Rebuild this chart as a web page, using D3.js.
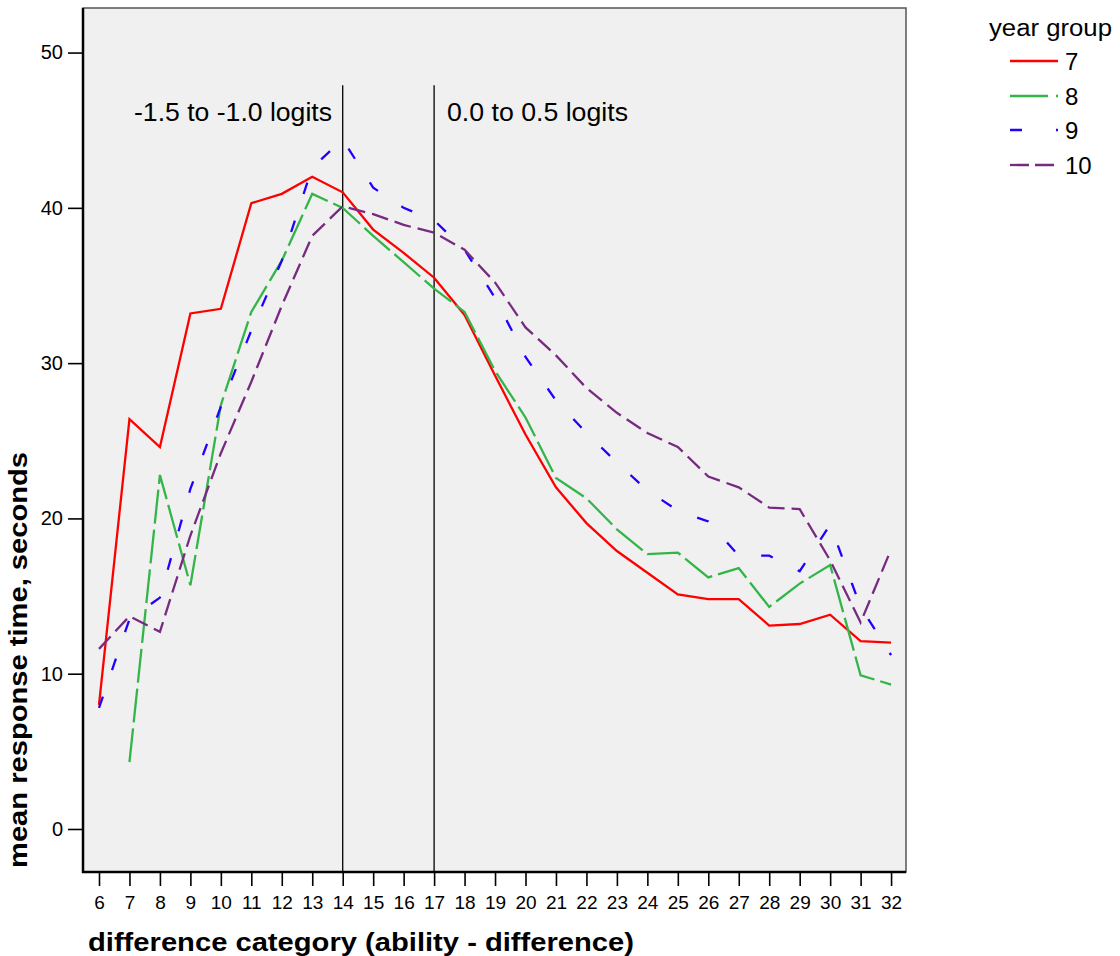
<!DOCTYPE html>
<html><head><meta charset="utf-8">
<script src="https://cdn.jsdelivr.net/npm/d3@7"></script>
<style>body{margin:0;background:#fff}svg{display:block}text{font-family:"Liberation Sans",Arial,sans-serif}</style>
</head><body><svg id="c" width="1120" height="956"></svg>
<script>
const categories = d3.range(6, 33);
const year7  = [8.0,26.4,24.6,33.2,33.5,40.3,40.9,42.0,41.0,38.6,37.1,35.5,33.1,29.2,25.4,22.0,19.7,17.9,16.5,15.1,14.8,14.8,13.1,13.2,13.8,12.1,12.0];
const year8  = [null,4.3,22.8,15.7,27.3,33.3,36.6,40.9,40.0,38.2,36.5,34.8,33.3,29.5,26.5,22.6,21.3,19.3,17.7,17.8,16.2,16.8,14.3,15.8,17.0,9.9,9.3];
const year9  = [7.8,13.5,14.9,21.9,27.2,32.1,36.6,42.6,44.4,41.3,40.0,39.2,37.3,34.2,30.4,27.6,25.5,23.6,21.8,20.5,19.8,17.6,17.6,16.6,19.6,14.3,11.2];
const year10 = [11.6,13.7,12.7,18.9,24.2,28.8,33.7,38.2,40.1,39.6,38.9,38.4,37.3,35.2,32.3,30.5,28.4,26.8,25.5,24.6,22.7,22.0,20.7,20.6,17.3,13.3,18.0];
const seriesNames = ["7","8","9","10"];
const yTicks = [0,10,20,30,40,50];
const refLines = [14,17];
const refLabels = ["-1.5 to -1.0 logits","0.0 to 0.5 logits"];

const series = [
  {name:seriesNames[0], values:year7,  color:"#ff0000", dash:null,        legDash:null},
  {name:seriesNames[1], values:year8,  color:"#33b549", dash:"34,6",      legDash:"38,8,2"},
  {name:seriesNames[2], values:year9,  color:"#2200ff", dash:"12,28",     legDash:"12,34,3"},
  {name:seriesNames[3], values:year10, color:"#772b80", dash:"17,7",      legDash:"19,6"}
];

const svg = d3.select("#c");
const L=83, R=906, T=8, B=872;
const x = d3.scaleLinear().domain([5.475, 32.49]).range([L, R]);
const y = d3.scaleLinear().domain([-2.77, 52.87]).range([B, T]);

svg.append("rect").attr("x",L).attr("y",T).attr("width",R-L).attr("height",B-T)
  .attr("fill","#f0f0f0").attr("stroke","#555").attr("stroke-width",1.5);

// reference lines
refLines.forEach(v=>{
  svg.append("line").attr("x1",x(v)).attr("x2",x(v)).attr("y1",y(47.9)).attr("y2",B)
    .attr("stroke","#000").attr("stroke-width",1.3);
});
svg.append("text").attr("x",134).attr("y",121).attr("font-size",25)
  .attr("textLength",198).attr("lengthAdjust","spacingAndGlyphs").text(refLabels[0]);
svg.append("text").attr("x",447).attr("y",121).attr("font-size",25)
  .attr("textLength",181).attr("lengthAdjust","spacingAndGlyphs").text(refLabels[1]);

// lines
const line = d3.line().defined(d=>d[1]!=null).x(d=>x(d[0])).y(d=>y(d[1]));
series.forEach(s=>{
  svg.append("path").datum(categories.map((c,i)=>[c,s.values[i]]))
    .attr("d",line).attr("fill","none").attr("stroke",s.color).attr("stroke-width",2.3)
    .attr("stroke-dasharray",s.dash).attr("stroke-linejoin","miter");
});

// axes
const yAxis = svg.append("g").attr("transform",`translate(${L},0)`)
  .call(d3.axisLeft(y).tickValues(yTicks).tickSize(15).tickPadding(5));
const xAxis = svg.append("g").attr("transform",`translate(0,${B})`)
  .call(d3.axisBottom(x).tickValues(categories).tickSize(14).tickPadding(10).tickFormat(d3.format("d")));
[yAxis,xAxis].forEach(g=>{
  g.select(".domain").remove();
  g.selectAll(".tick line").attr("stroke","#000").attr("stroke-width",1.6);
  g.selectAll("text").attr("fill","#000").attr("font-family","'Liberation Sans',Arial,sans-serif");
});
yAxis.selectAll("text").attr("font-size",20);
xAxis.selectAll("text").attr("font-size",19);
svg.append("line").attr("x1",L).attr("x2",L).attr("y1",T).attr("y2",B+1).attr("stroke","#000").attr("stroke-width",2.5);
svg.append("line").attr("x1",L-1).attr("x2",R).attr("y1",B).attr("y2",B).attr("stroke","#000").attr("stroke-width",2.5);

// titles
svg.append("text").attr("transform","translate(27,868) rotate(-90)").attr("text-anchor","start")
  .attr("font-size",25).attr("font-weight","bold")
  .attr("textLength",416).attr("lengthAdjust","spacingAndGlyphs").text("mean response time, seconds");
svg.append("text").attr("x",88).attr("y",951).attr("font-size",25).attr("font-weight","bold")
  .attr("textLength",546).attr("lengthAdjust","spacingAndGlyphs")
  .text("difference category (ability - difference)");

// legend
svg.append("text").attr("x",989).attr("y",36).attr("font-size",23)
  .attr("textLength",123).attr("lengthAdjust","spacingAndGlyphs").text("year group");
const ly = [61,96,130,165];
series.forEach((s,i)=>{
  svg.append("line").attr("x1",1010).attr("x2",1058).attr("y1",ly[i]).attr("y2",ly[i])
    .attr("stroke",s.color).attr("stroke-width",2.3).attr("stroke-dasharray",s.legDash);
  svg.append("text").attr("x",1065).attr("y",ly[i]+9).attr("font-size",24).text(s.name);
});
</script></body></html>
